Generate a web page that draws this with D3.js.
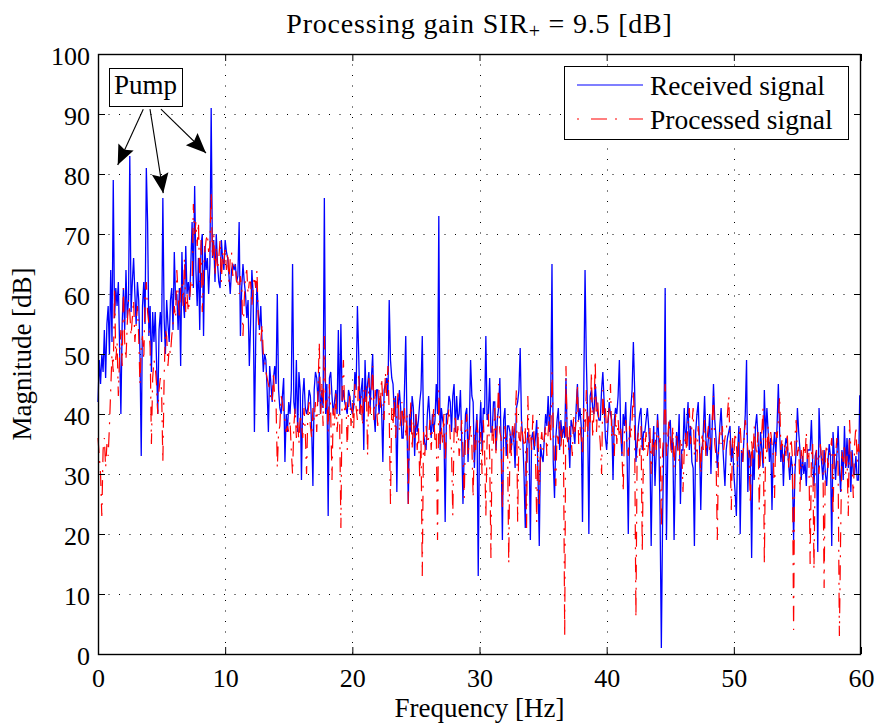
<!DOCTYPE html>
<html>
<head>
<meta charset="utf-8">
<script src="https://cdn.jsdelivr.net/npm/d3@7"></script>
<style>
  html, body { margin: 0; padding: 0; background: #fff; }
  svg text { font-family: "Liberation Serif", "Times New Roman", serif; fill: #000; }
</style>
</head>
<body>
<svg id="chart" width="879" height="724"></svg>
<script>
// Spectrum samples, 0.1 Hz apart, from 0 to 60 Hz (magnitudes in dB)
const freqStep = 0.1;

const received = [
  42,49,45,50,47,54,46,55,58,50,
  64,52,79,56,61,58,62,51,40,55,
  61,54,64,56,59,83,57,62,66,60,
  55,62,59,50,33,58,62,55,81,72,
  53,58,47,57,52,57,49,40,54,57,
  52,76,56,50,59,55,52,59,61,54,
  67,59,60,54,61,48,67,59,56,68,
  60,62,59,65,72,61,78,64,58,66,
  54,68,70,53,68,64,66,60,65,91,
  66,69,62,70,65,62,61,69,66,64,
  69,67,66,63,60,64,65,64,65,62,
  63,72,53,61,65,62,60,56,59,48,
  55,64,60,37,52,62,57,54,58,52,
  47,50,49,44,37,48,45,42,46,48,
  45,60,44,41,40,43,46,32,40,37,
  42,40,44,65,42,40,49,37,47,44,
  29,43,46,41,40,41,44,43,38,28,
  44,47,46,42,47,40,44,41,76,40,
  45,23,46,47,43,40,42,44,40,54,
  40,55,42,44,42,41,40,44,43,41,
  40,41,47,44,58,50,40,44,46,34,
  49,42,45,47,41,46,50,40,37,44,
  44,40,43,41,32,44,45,46,43,59,
  49,46,45,40,43,27,41,44,41,36,
  36,44,53,38,25,40,37,43,41,33,
  40,37,39,42,44,53,37,35,34,40,
  43,39,36,40,37,39,45,40,73,34,
  41,39,38,22,40,40,43,42,37,43,
  45,37,43,39,40,44,36,25,34,40,
  41,32,38,49,43,42,31,37,40,13,
  37,42,34,41,40,53,39,40,46,37,
  37,42,42,34,39,41,46,35,19,39,
  41,33,38,38,37,34,38,36,31,41,
  42,44,51,39,36,30,21,34,37,35,
  19,36,37,34,36,39,30,18,35,33,
  32,36,40,38,43,37,42,65,32,26,
  36,39,41,34,39,36,38,36,46,36,
  36,31,39,38,37,35,41,45,39,41,
  38,22,44,64,49,40,20,43,44,41,
  40,45,42,40,39,39,44,47,42,36,
  34,38,42,40,39,29,39,41,40,43,
  49,37,33,40,38,42,34,20,37,41,
  44,52,44,32,35,38,40,41,34,37,
  37,39,41,38,34,18,33,38,28,34,
  40,36,23,1,23,36,61,19,33,38,
  39,34,36,19,31,37,34,40,25,34,
  34,41,35,38,42,34,38,32,31,18,
  37,40,42,35,24,34,37,43,36,33,
  36,40,30,38,45,39,36,31,34,38,
  41,36,32,28,34,36,37,38,32,35,
  30,27,23,34,38,20,34,32,36,40,
  49,27,34,33,16,34,29,38,40,36,
  31,37,34,31,44,36,41,37,32,36,
  24,34,37,33,38,45,37,32,35,28,
  34,36,35,32,29,33,31,19,30,34,
  41,37,34,29,33,30,32,28,34,34,
  34,39,32,28,33,34,17,41,35,32,
  29,34,30,28,32,35,33,18,37,33,
  29,33,38,31,27,34,29,38,31,36,
  31,36,27,34,30,30,33,29,29,43,
  43
];

const processed = [
  36,33,30,23,34,36,31,35,33,38,
  44,50,47,61,49,52,43,50,54,48,
  61,52,49,55,59,57,53,56,59,52,
  55,58,53,45,51,53,49,59,62,57,
  55,51,35,46,49,48,45,40,44,46,
  44,32,46,54,53,48,51,50,53,55,
  58,56,64,60,56,61,62,58,66,57,
  60,57,59,62,61,75,70,72,68,72,
  62,69,57,64,67,69,70,67,68,77,
  66,70,63,68,64,66,69,62,67,65,
  68,64,67,62,66,67,63,64,65,62,
  62,60,63,61,53,59,63,64,60,62,
  62,58,61,63,61,64,56,53,52,55,
  50,49,47,46,45,44,42,42,47,42,
  42,31,37,38,43,42,40,39,37,38,
  37,39,34,30,38,41,36,39,35,40,
  38,36,41,37,30,40,42,38,36,41,
  39,42,37,44,52,40,45,38,53,41,
  43,37,45,40,29,41,38,44,37,40,
  39,21,44,49,40,42,34,41,43,38,
  42,37,45,41,39,47,40,43,38,44,
  42,45,33,46,40,43,48,39,44,41,
  38,44,41,46,42,39,47,43,48,40,
  25,41,38,43,36,40,44,37,39,42,
  38,41,36,40,25,37,42,34,39,36,
  40,34,38,29,36,13,37,33,38,35,
  36,39,34,38,41,35,37,19,44,35,
  38,35,40,32,37,39,41,36,34,23,
  37,40,35,38,33,36,39,34,26,37,
  40,33,36,38,35,26,37,34,39,36,
  35,37,30,39,34,23,36,40,33,16,
  38,35,41,33,39,45,37,36,24,34,
  38,35,36,15,37,33,38,35,39,44,
  22,37,34,39,36,35,38,21,43,35,
  37,34,40,36,33,22,38,25,35,37,
  34,36,38,33,37,40,35,47,38,32,
  28,37,35,39,34,38,36,3,48,36,
  34,38,36,33,40,37,39,45,35,38,
  36,33,41,37,44,36,40,38,47,36,
  40,49,37,42,38,35,30,44,39,41,
  37,39,41,45,36,38,33,40,35,39,
  36,38,34,27,37,39,35,33,38,36,
  39,44,37,6,35,37,33,38,17,36,
  34,37,33,35,38,30,36,33,37,34,
  39,35,36,21,34,37,45,33,36,39,
  36,33,38,31,35,37,34,32,36,35,
  27,34,37,33,39,41,35,38,41,33,
  36,32,38,35,30,37,34,39,33,36,
  38,34,36,39,43,35,33,19,34,37,
  35,38,34,36,37,40,43,35,24,36,
  33,37,35,31,36,38,34,32,36,39,
  37,34,33,25,36,32,38,35,33,37,
  24,35,37,41,15,36,33,38,34,37,
  35,33,26,37,36,39,43,34,36,32,
  35,33,37,31,34,36,33,4,36,39,
  33,35,27,34,31,35,33,37,32,34,
  15,33,35,14,31,34,33,30,35,32,
  34,11,33,35,31,33,34,36,23,34,
  33,36,31,3,20,34,32,35,30,33,
  23,39,34,31,26,35,38,32,35,33,
  35
];

const xTicks = [0, 10, 20, 30, 40, 50, 60];
const yTicks = [0, 10, 20, 30, 40, 50, 60, 70, 80, 90, 100];
const seriesNames = ["Received signal", "Processed signal"];
const seriesColors = ["#0000ff", "#ff0000"];

// "Pump" callout: label anchor and arrow tips, in data units (Hz, dB)
const pumpLabel = { f: 3.74, db: 93.3 };
const pumpArrows = [
  { from: [3.56, 90.8], to: [1.55, 81.5] },
  { from: [4.09, 90.8], to: [5.13, 76.8] },
  { from: [4.95, 90.8], to: [8.49, 83.5] }
];

const freqs = received.map((_, i) => +(i * freqStep).toFixed(1));

const svg = d3.select("#chart");
const plot = { left: 98, right: 861, top: 54, bottom: 654 };

const x = d3.scaleLinear().domain([0, 60]).range([plot.left, plot.right]);
const y = d3.scaleLinear().domain([0, 100]).range([plot.bottom, plot.top]);

// dotted grid
const grid = svg.append("g").attr("class", "grid")
  .attr("stroke", "#000").attr("stroke-width", 1).attr("stroke-dasharray", "1,9.5");
grid.selectAll("line.gx").data(xTicks.slice(1, -1)).join("line")
  .attr("x1", d => Math.round(x(d)) + 0.5).attr("x2", d => Math.round(x(d)) + 0.5)
  .attr("y1", plot.top).attr("y2", plot.bottom);
grid.selectAll("line.gy").data(yTicks.slice(1, -1)).join("line")
  .attr("y1", d => Math.round(y(d)) + 0.5).attr("y2", d => Math.round(y(d)) + 0.5)
  .attr("x1", plot.left).attr("x2", plot.right);

// spectra
const line = d3.line().x((d, i) => x(freqs[i])).y(d => y(d));
svg.append("path").datum(received)
  .attr("fill", "none").attr("stroke", seriesColors[0]).attr("stroke-width", 1.3)
  .attr("stroke-linejoin", "miter").attr("d", line);
svg.append("path").datum(processed)
  .attr("fill", "none").attr("stroke", seriesColors[1]).attr("stroke-width", 1.2)
  .attr("stroke-dasharray", "15,8,2,8").attr("d", line);

// axes: ticks pointing inwards on all four sides
const tickFont = "26px";
const axB = svg.append("g").attr("transform", `translate(0,${plot.bottom})`)
  .call(d3.axisBottom(x).tickValues(xTicks).tickFormat(d3.format("d"))
    .tickSizeInner(-7).tickSizeOuter(0).tickPadding(14.5));
const axL = svg.append("g").attr("transform", `translate(${plot.left},0)`)
  .call(d3.axisLeft(y).tickValues(yTicks).tickFormat(d3.format("d"))
    .tickSizeInner(-7).tickSizeOuter(0).tickPadding(8));
const axT = svg.append("g").attr("transform", `translate(0,${plot.top})`)
  .call(d3.axisTop(x).tickValues(xTicks).tickFormat("").tickSizeInner(-7).tickSizeOuter(0));
const axR = svg.append("g").attr("transform", `translate(${plot.right},0)`)
  .call(d3.axisRight(y).tickValues(yTicks).tickFormat("").tickSizeInner(-7).tickSizeOuter(0));
[axB, axL, axT, axR].forEach(a => {
  a.select(".domain").remove();
  a.selectAll(".tick line").attr("stroke", "#000").attr("stroke-width", 1);
  a.selectAll("text").attr("font-size", tickFont)
    .attr("font-family", "'Liberation Serif', serif").attr("fill", "#000");
});
axL.selectAll("text").attr("dy", "0.4em");

// frame
svg.append("rect")
  .attr("x", plot.left + 0.5).attr("y", plot.top + 0.5)
  .attr("width", plot.right - plot.left - 1).attr("height", plot.bottom - plot.top)
  .attr("fill", "none").attr("stroke", "#000").attr("stroke-width", 1.4);

// title
const title = svg.append("text").attr("x", (plot.left + plot.right) / 2).attr("y", 33)
  .attr("text-anchor", "middle").attr("font-size", "28px").attr("letter-spacing", "0.8px");
title.append("tspan").text("Processing gain SIR");
title.append("tspan").attr("font-size", "20px").attr("dy", 5).text("+");
title.append("tspan").attr("dy", -5).text(" = 9.5 [dB]");

// axis labels
svg.append("text").attr("x", (plot.left + plot.right) / 2).attr("y", 717)
  .attr("text-anchor", "middle").attr("font-size", "27px").text("Frequency [Hz]");
svg.append("text").attr("transform", `translate(31,${(plot.top + plot.bottom) / 2}) rotate(-90)`)
  .attr("text-anchor", "middle").attr("font-size", "27px").text("Magnitude [dB]");

// legend
const leg = svg.append("g");
leg.append("rect").attr("x", 564.5).attr("y", 66.5).attr("width", 284).attr("height", 73)
  .attr("fill", "#fff").attr("stroke", "#000").attr("stroke-width", 1);
seriesNames.forEach((name, i) => {
  const ly = 85 + i * 34;
  leg.append("line").attr("x1", 577).attr("x2", 643).attr("y1", ly).attr("y2", ly)
    .attr("stroke", seriesColors[i]).attr("stroke-width", 1.2)
    .attr("stroke-dasharray", i === 1 ? "2,12,16,8,2,12,16" : null);
  leg.append("text").attr("x", 650).attr("y", ly + 10).attr("font-size", "27.5px").text(name);
});

// "Pump" callout
const defs = svg.append("defs");
defs.append("marker").attr("id", "head").attr("markerUnits", "userSpaceOnUse")
  .attr("markerWidth", 22).attr("markerHeight", 22)
  .attr("viewBox", "-1 -10 21 20").attr("refX", 19).attr("refY", 0)
  .attr("orient", "auto")
  .append("path").attr("d", "M0,-8 L19,0 L0,8 L3,0 Z").attr("fill", "#000");

const pumpG = svg.append("g");
pumpArrows.forEach(a => {
  pumpG.append("line")
    .attr("x1", x(a.from[0])).attr("y1", y(a.from[1]))
    .attr("x2", x(a.to[0])).attr("y2", y(a.to[1]))
    .attr("stroke", "#000").attr("stroke-width", 1.1)
    .attr("marker-end", "url(#head)");
});
const pumpText = pumpG.append("text").attr("x", x(pumpLabel.f)).attr("y", y(pumpLabel.db))
  .attr("text-anchor", "middle").attr("font-size", "27px").text("Pump");
const bb = pumpText.node().getBBox();
pumpG.insert("rect", "text")
  .attr("x", Math.round(bb.x - 5) + 0.5).attr("y", Math.round(bb.y - 2) + 0.5)
  .attr("width", Math.round(bb.width + 10)).attr("height", Math.round(bb.height + 8))
  .attr("fill", "#fff").attr("stroke", "#000").attr("stroke-width", 1);
</script>
</body>
</html>
